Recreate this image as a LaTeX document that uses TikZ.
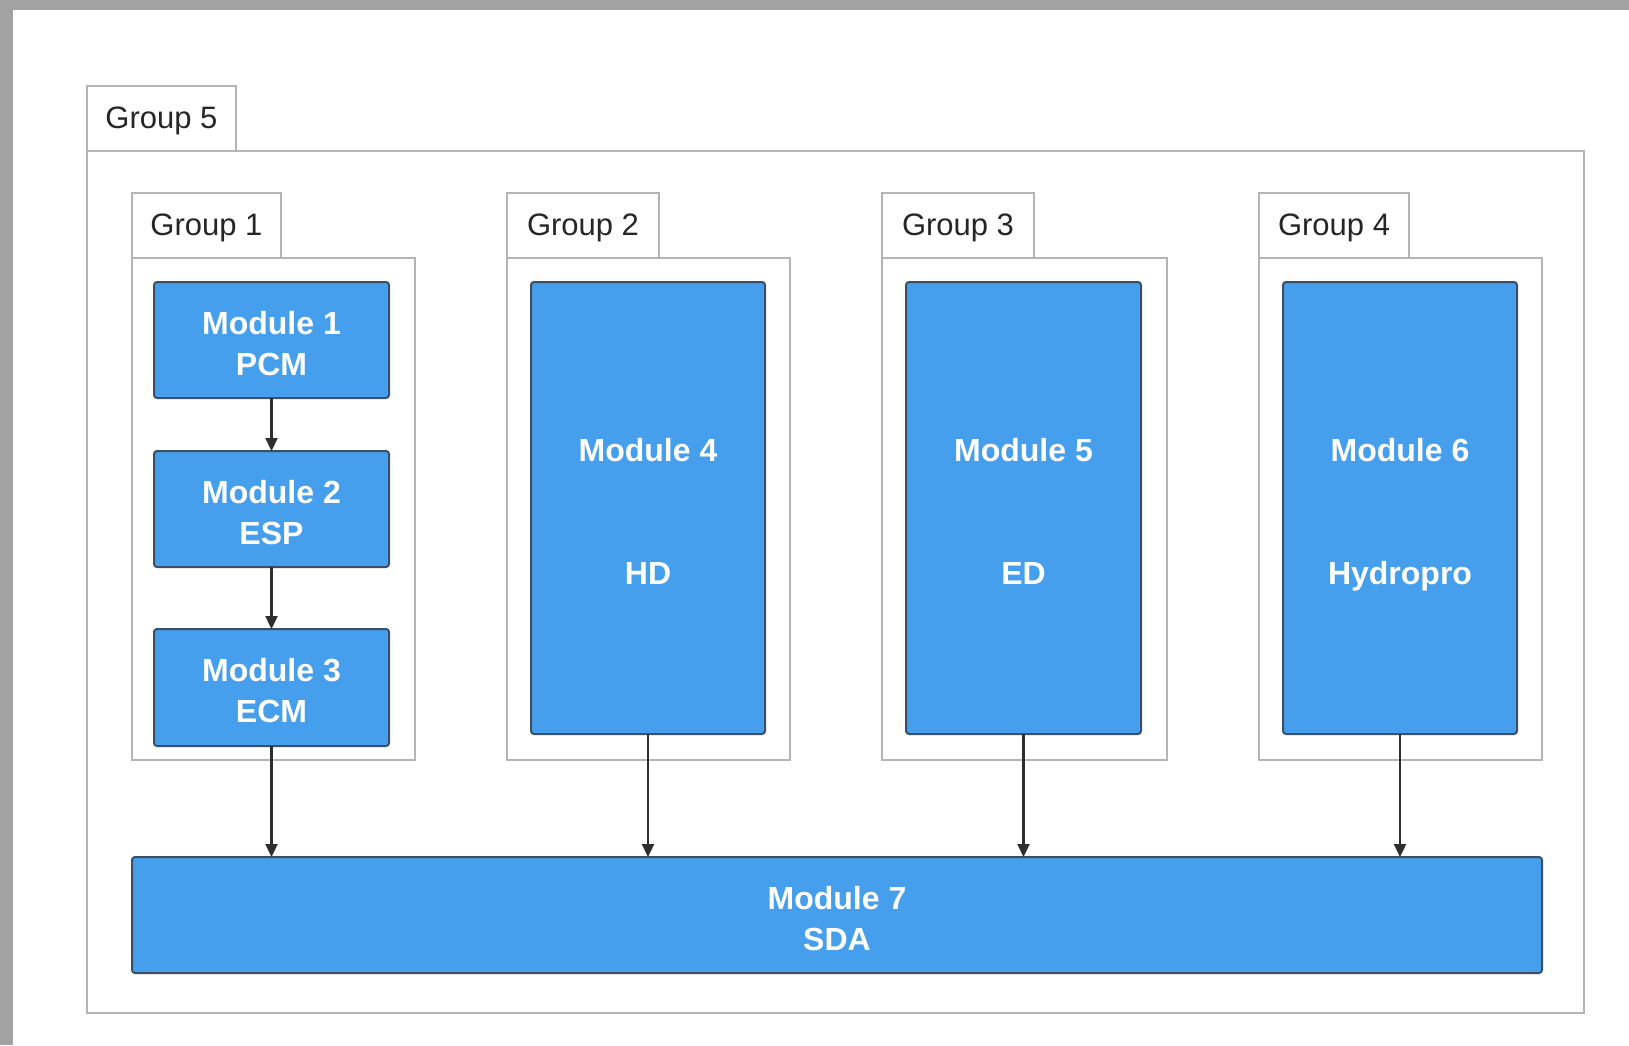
\documentclass[tikz,border=0pt]{standalone}
\usepackage{fontspec}
\setmainfont{Liberation Sans}
\usetikzlibrary{arrows.meta}
\definecolor{modfill}{HTML}{459FEC}
\definecolor{modline}{HTML}{3F4F63}
\definecolor{grpline}{HTML}{B4B4B4}
\definecolor{frame}{HTML}{A2A2A2}
\definecolor{arrowc}{HTML}{2E2E2E}
% taller first line so the label block sits a little lower in its box
\newcommand{\modtop}{\rule{0pt}{30pt}}
% last line without descender depth
\newcommand{\nodepth}[1]{\raisebox{0pt}[\height][0pt]{#1}}
\tikzset{
  grpbox/.style={draw=grpline, line width=2pt, fill=white, inner sep=0pt, outer sep=0pt},
  grptab/.style={grpbox, font=\fontsize{31}{36}\selectfont, text=black!85, text depth=2.5pt},
  module/.style={draw=modline, line width=2pt, fill=modfill, rounded corners=3pt,
    inner sep=0pt, outer sep=0pt, align=center, text=white,
    font=\bfseries\fontsize{32}{41}\selectfont},
  flow/.style={draw=arrowc, line width=2.2pt, -{Triangle[width=12pt,length=13pt]}}
}
\begin{document}
\begin{tikzpicture}[x=1pt,y=-1pt]
  % page with a grey frame strip on top and left
  \fill[frame] (0,0) rectangle (1629,1045);
  \fill[white] (13,10) rectangle (1629,1045);
  \useasboundingbox (0,0) rectangle (1629,1045);

  % outer group
  \node[grptab, minimum width=149pt, minimum height=65pt] (g5tab) at (161.5,118.5) {Group 5};
  \node[grpbox, minimum width=1497pt, minimum height=862pt] (g5) at (835.5,582) {};

  % inner groups
  \node[grptab, minimum width=149pt, minimum height=65pt] (g1tab) at (206.5,225.5) {Group 1};
  \node[grpbox, minimum width=283pt, minimum height=502pt] (g1) at (273.5,509) {};
  \node[grptab, minimum width=152pt, minimum height=65pt] (g2tab) at (583,225.5) {Group 2};
  \node[grpbox, minimum width=283pt, minimum height=502pt] (g2) at (648.5,509) {};
  \node[grptab, minimum width=152pt, minimum height=65pt] (g3tab) at (958,225.5) {Group 3};
  \node[grpbox, minimum width=285pt, minimum height=502pt] (g3) at (1024.5,509) {};
  \node[grptab, minimum width=150pt, minimum height=65pt] (g4tab) at (1334,225.5) {Group 4};
  \node[grpbox, minimum width=283pt, minimum height=502pt] (g4) at (1400.5,509) {};

  % modules
  \node[module, minimum width=235pt, minimum height=116pt] (m1) at (271.5,340) {\modtop Module 1\\PCM};
  \node[module, minimum width=235pt, minimum height=116pt] (m2) at (271.5,509) {\modtop Module 2\\ESP};
  \node[module, minimum width=235pt, minimum height=117pt] (m3) at (271.5,687.5) {\modtop Module 3\\ECM};
  \node[module, minimum width=234pt, minimum height=452pt] (m4) at (648,508) {\modtop Module 4\\[82pt]HD};
  \node[module, minimum width=235pt, minimum height=452pt] (m5) at (1023.5,508) {\modtop Module 5\\[82pt]ED};
  \node[module, minimum width=234pt, minimum height=452pt] (m6) at (1400,508) {\modtop Module 6\\[82pt]\nodepth{Hydropro}};
  \node[module, minimum width=1410pt, minimum height=116pt] (m7) at (837,915) {\modtop Module 7\\SDA};

  % connectors
  \draw[flow] (m1.south) -- (m2.north);
  \draw[flow] (m2.south) -- (m3.north);
  \draw[flow] (m3.south) -- (m3.south |- m7.north);
  \draw[flow] (m4.south) -- (m4.south |- m7.north);
  \draw[flow] (m5.south) -- (m5.south |- m7.north);
  \draw[flow] (m6.south) -- (m6.south |- m7.north);
\end{tikzpicture}
\end{document}
